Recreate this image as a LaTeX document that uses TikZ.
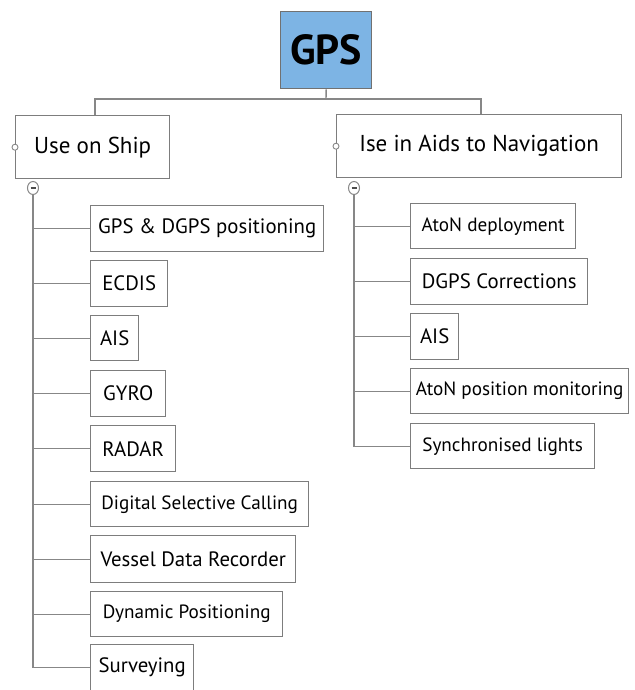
\documentclass[tikz,border=0pt]{standalone}
\usepackage{fontspec}
\setmainfont{PT Sans}
\usetikzlibrary{shapes.geometric}
\begin{document}
\begin{tikzpicture}[x=1pt,y=-1pt,
  box/.style={draw=boxgray, line width=1.4pt, fill=white, anchor=north west, inner sep=0pt, align=center, text=black},
  big/.style={font=\fontsize{20.8}{24}\selectfont},
  small/.style={font=\fontsize{19.2}{22}\selectfont},
  conn/.style={draw=linegray, line width=1.4pt},
  toggle/.style={draw=linegray, line width=1pt, fill=white, ellipse, minimum width=11pt, minimum height=13pt, inner sep=0pt},
  knob/.style={draw=linegray, line width=0.9pt, fill=white, circle, minimum size=6pt, inner sep=0pt}
]
\definecolor{boxgray}{RGB}{125,125,125}
\definecolor{linegray}{RGB}{135,135,135}
\definecolor{gpsblue}{RGB}{125,180,228}
\useasboundingbox (0,0) rectangle (634,690);
\fill[white] (0,0) rectangle (634,690);

% root
\node[box, fill=gpsblue, draw=boxgray!90!black, minimum width=91pt, minimum height=77pt, font=\bfseries\fontsize{42}{46}\selectfont] (gps) at (280,11) {GPS};

% level 1
\node[box, minimum width=154pt, minimum height=63pt, font=\fontsize{23}{26}\selectfont] (ship) at (15,115) {Use on Ship};
\node[box, minimum width=285pt, minimum height=63pt, font=\fontsize{23}{26}\selectfont] (aton) at (336,114) {Ise in Aids to Navigation};

\coordinate (bar) at (326,99);
\draw[conn] (gps.south) -- (bar);
\draw[conn] (bar) -| (ship.north -| 95,0);
\draw[conn] (bar) -| (aton.north -| 481,0);

% left knobs
\node[knob] (kship) at (ship.west) {};
\node[knob] (katon) at (aton.west) {};

% toggles
\node[toggle] (tship) at (33,188) {};
\node[toggle] (taton) at (354,188) {};
\draw[black!70, line width=1.4pt] ([xshift=-2.5pt]tship.center) -- ([xshift=2.5pt]tship.center);
\draw[black!70, line width=1.4pt] ([xshift=-2.5pt]taton.center) -- ([xshift=2.5pt]taton.center);

% ship items
\node[box, big, minimum width=233pt, minimum height=46pt] (s1) at (90,205) {GPS \& DGPS positioning};
\node[box, big, minimum width=77pt, minimum height=46pt] (s2) at (90,260) {ECDIS};
\node[box, big, minimum width=48pt, minimum height=45pt] (s3) at (90,315) {AIS};
\node[box, big, minimum width=75pt, minimum height=46pt] (s4) at (90,370) {GYRO};
\node[box, big, minimum width=85pt, minimum height=46pt] (s5) at (90,425) {RADAR};
\node[box, small, minimum width=218pt, minimum height=45pt] (s6) at (90,481) {Digital Selective Calling};
\node[box, big, minimum width=205pt, minimum height=47pt] (s7) at (90,535) {Vessel Data Recorder};
\node[box, small, minimum width=192pt, minimum height=45pt] (s8) at (90,591) {Dynamic Positioning};
\node[box, big, minimum width=103pt, minimum height=46pt] (s9) at (90,644) {Surveying};

\foreach \n in {s1,s2,s3,s4,s5,s6,s7,s8,s9}
  \draw[conn] (tship.south) |- (\n.west);

% aton items
\node[box, small, minimum width=165pt, minimum height=45pt] (a1) at (410,203) {AtoN deployment};
\node[box, big, minimum width=177pt, minimum height=46pt] (a2) at (410,258) {DGPS Corrections};
\node[box, big, minimum width=48pt, minimum height=46pt] (a3) at (410,313) {AIS};
\node[box, small, minimum width=218pt, minimum height=45pt] (a4) at (410,368) {AtoN position monitoring};
\node[box, small, minimum width=184pt, minimum height=45pt] (a5) at (410,423) {Synchronised lights};

\foreach \n in {a1,a2,a3,a4,a5}
  \draw[conn] (taton.south) |- (\n.west);
\end{tikzpicture}
\end{document}
